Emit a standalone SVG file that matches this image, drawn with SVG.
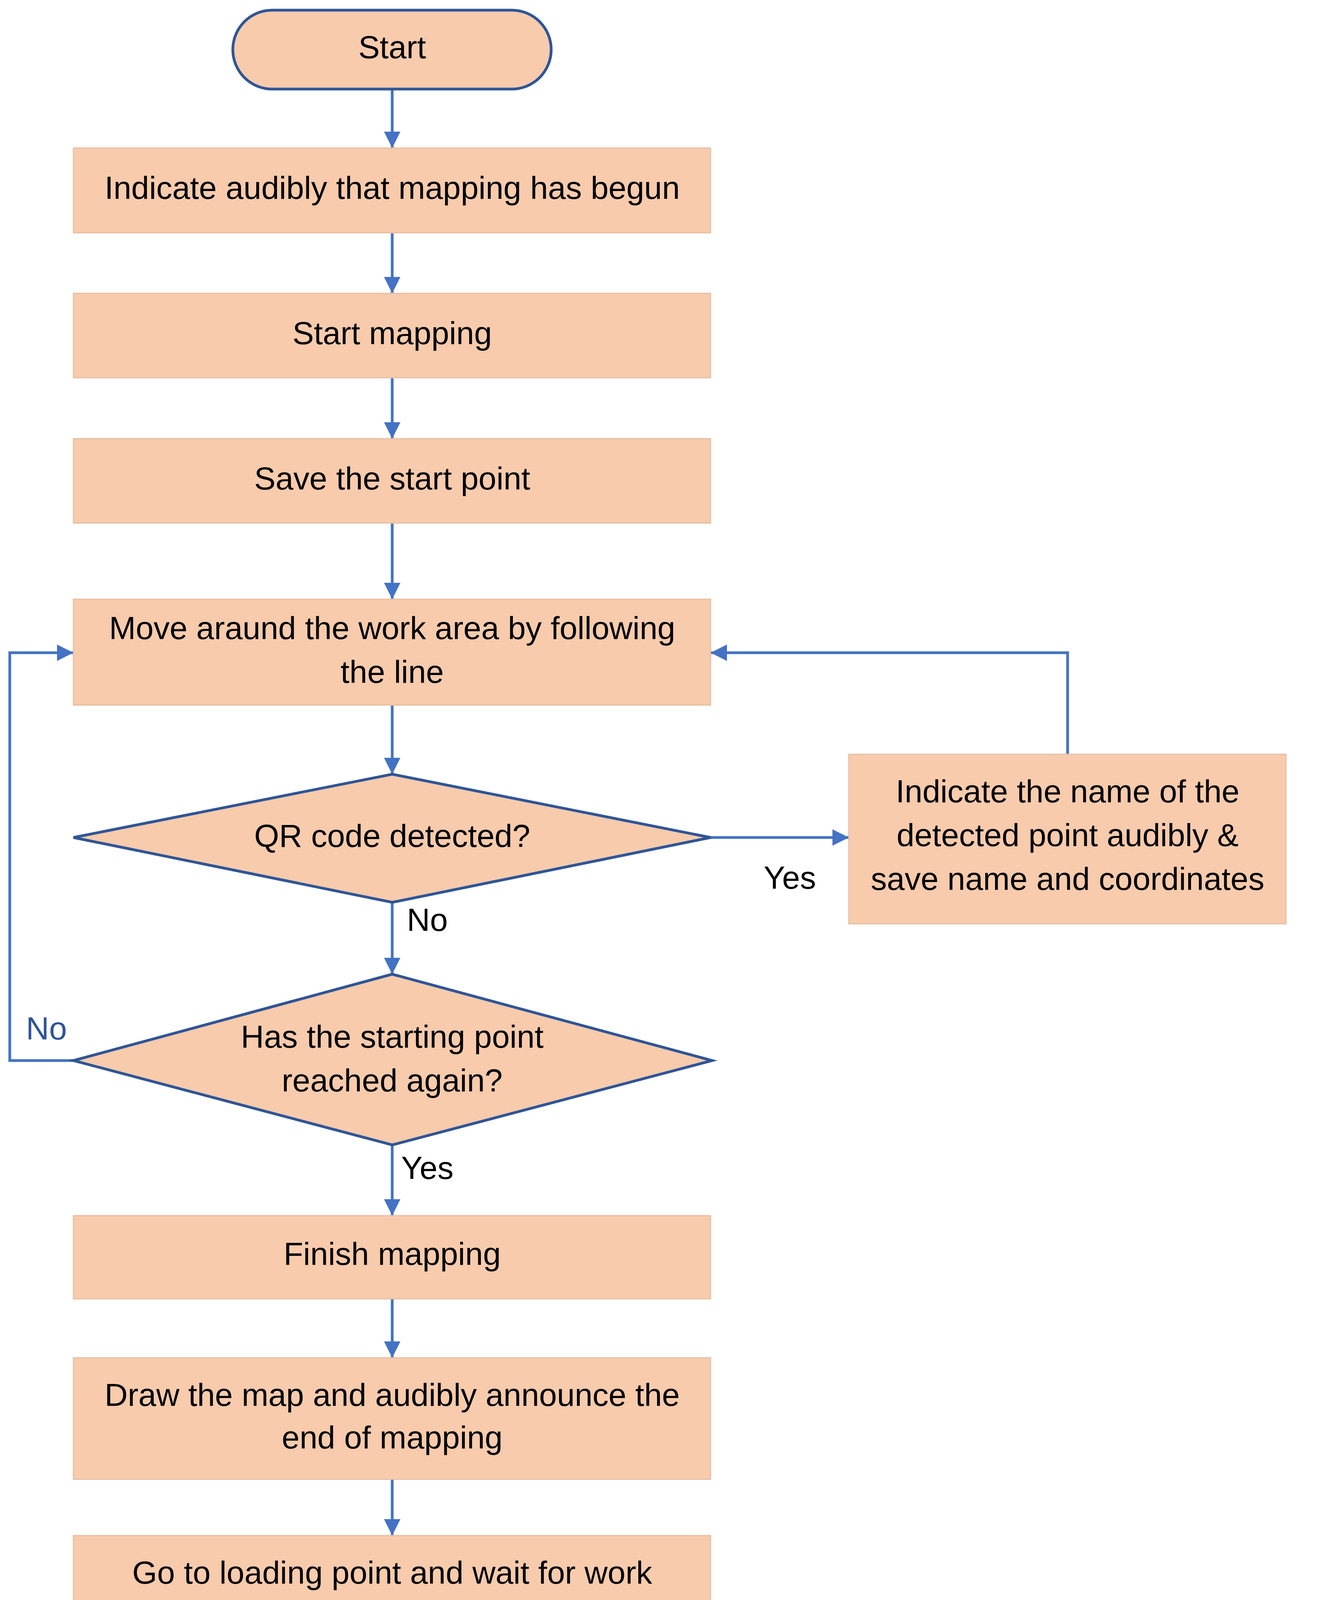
<svg xmlns="http://www.w3.org/2000/svg" width="3374" height="5660" viewBox="0 0 3374 5660">
<defs>
<marker id="ah" viewBox="0 0 10 10" refX="10" refY="5" markerWidth="6" markerHeight="6" orient="auto" markerUnits="strokeWidth"><path d="M0,0 L10,5 L0,10 z" fill="#4472C4"/></marker>
<style>
.box{fill:#F7CBAC;stroke:#E5BFA3;stroke-width:3}
.dec{fill:#F7CBAC;stroke:#2F5597;stroke-width:7}
.c{fill:none;stroke:#4472C4;stroke-width:7;marker-end:url(#ah)}
.l{fill:none;stroke:#4472C4;stroke-width:7}
text{font-family:"Liberation Sans",Arial,sans-serif;font-size:82px;fill:#000;text-anchor:middle;dominant-baseline:middle}
.big{font-size:100px}
</style>
</defs>
<rect width="3374" height="5660" fill="#fff"/>
<g id="connectors">
<path class="c" d="M1004,228 V379"/>
<path class="c" d="M1004,596 V751"/>
<path class="c" d="M1004,967 V1123"/>
<path class="c" d="M1004,1339 V1534"/>
<path class="c" d="M1004,1805 V1982"/>
<path class="c" d="M1819,2144 H2173"/>
<path class="c" d="M2733,1931 V1671 H1819"/>
<path class="c" d="M1004,2310 V2494"/>
<path class="c" d="M188,2715 H25 V1671 H188"/>
<path class="c" d="M1004,2931 V3112"/>
<path class="c" d="M1004,3325 V3476"/>
<path class="c" d="M1004,3787 V3931"/>
<path class="c" d="M1004,4238 V4462"/>
<path class="l" d="M1004,4325 H3346 V5141 H3180"/>
<path class="c" d="M1816,4617 H2253"/>
<path class="c" d="M2718,4772 V4906"/>
<path class="c" d="M1004,4772 V4985"/>
<path class="c" d="M1816,5141 H2253"/>
<path class="c" d="M1004,5299 V5465"/>
</g>
<g id="start"><rect x="596" y="26" width="815" height="202" rx="101" class="dec"/><text x="1004" y="127">Start</text></g>
<g id="n1"><rect x="188" y="379" width="1631" height="217" class="box"/><text x="1004" y="487">Indicate audibly that mapping has begun</text></g>
<g id="n2"><rect x="188" y="751" width="1631" height="216" class="box"/><text x="1004" y="859">Start mapping</text></g>
<g id="n3"><rect x="188" y="1123" width="1631" height="216" class="box"/><text x="1004" y="1231">Save the start point</text></g>
<g id="n4"><rect x="188" y="1534" width="1631" height="271" class="box"/><text x="1004" y="1614">Move araund the work area by following</text><text x="1004" y="1726">the line</text></g>
<g id="d1"><polygon points="1004,1982 1819,2144 1004,2310 188,2144" class="dec"/><text x="1004" y="2146">QR code detected?</text></g>
<g id="n5"><rect x="2173" y="1931" width="1119" height="434" class="box"/><text x="2733" y="2032">Indicate the name of the</text><text x="2733" y="2144">detected point audibly &amp;</text><text x="2733" y="2256">save name and coordinates</text></g>
<g id="d2"><polygon points="1004,2494 1823,2715 1004,2931 188,2715" class="dec"/><text x="1004" y="2660">Has the starting point</text><text x="1004" y="2772">reached again?</text></g>
<g id="n6"><rect x="188" y="3112" width="1631" height="213" class="box"/><text x="1004" y="3216">Finish mapping</text></g>
<g id="n7"><rect x="188" y="3476" width="1631" height="311" class="box"/><text x="1004" y="3577">Draw the map and audibly announce the</text><text x="1004" y="3686">end of mapping</text></g>
<g id="n8"><rect x="188" y="3931" width="1631" height="307" class="box"/><text x="1004" y="4032">Go to loading point and wait for work</text><text x="1004" y="4141">order</text></g>
<g id="d3"><polygon points="1004,4462 1816,4617 1004,4772 188,4617" class="dec"/><text x="1004" y="4619">Got a work order?</text></g>
<g id="n9"><rect x="2253" y="4462" width="927" height="310" class="box"/><text x="2718" y="4619">Fulfill the work order</text></g>
<g id="d4"><polygon points="1004,4985 1816,5141 1004,5299 188,5141" class="dec"/><text x="1004" y="5143">Is the program over?</text></g>
<g id="n10"><rect x="2253" y="4906" width="927" height="469" class="box"/><text x="2718" y="5032">Go to busiest work</text><text x="2718" y="5144">order point and wait</text><text x="2718" y="5256">for work order</text></g>
<g id="end"><rect x="610" y="5465" width="787" height="167" rx="83" class="dec"/><text x="1004" y="5550">End</text></g>
<g id="labels">
<text x="2022" y="2253">Yes</text>
<text x="1094" y="2361">No</text>
<text x="119" y="2639" style="fill:#2F5597">No</text>
<text x="1094" y="2996">Yes</text>
<text x="1957" y="4715" class="big">Yes</text>
<text x="1094" y="4866" class="big">No</text>
<text x="1982" y="5256">No</text>
<text x="1084" y="5366">Yes</text>
</g>
</svg>
